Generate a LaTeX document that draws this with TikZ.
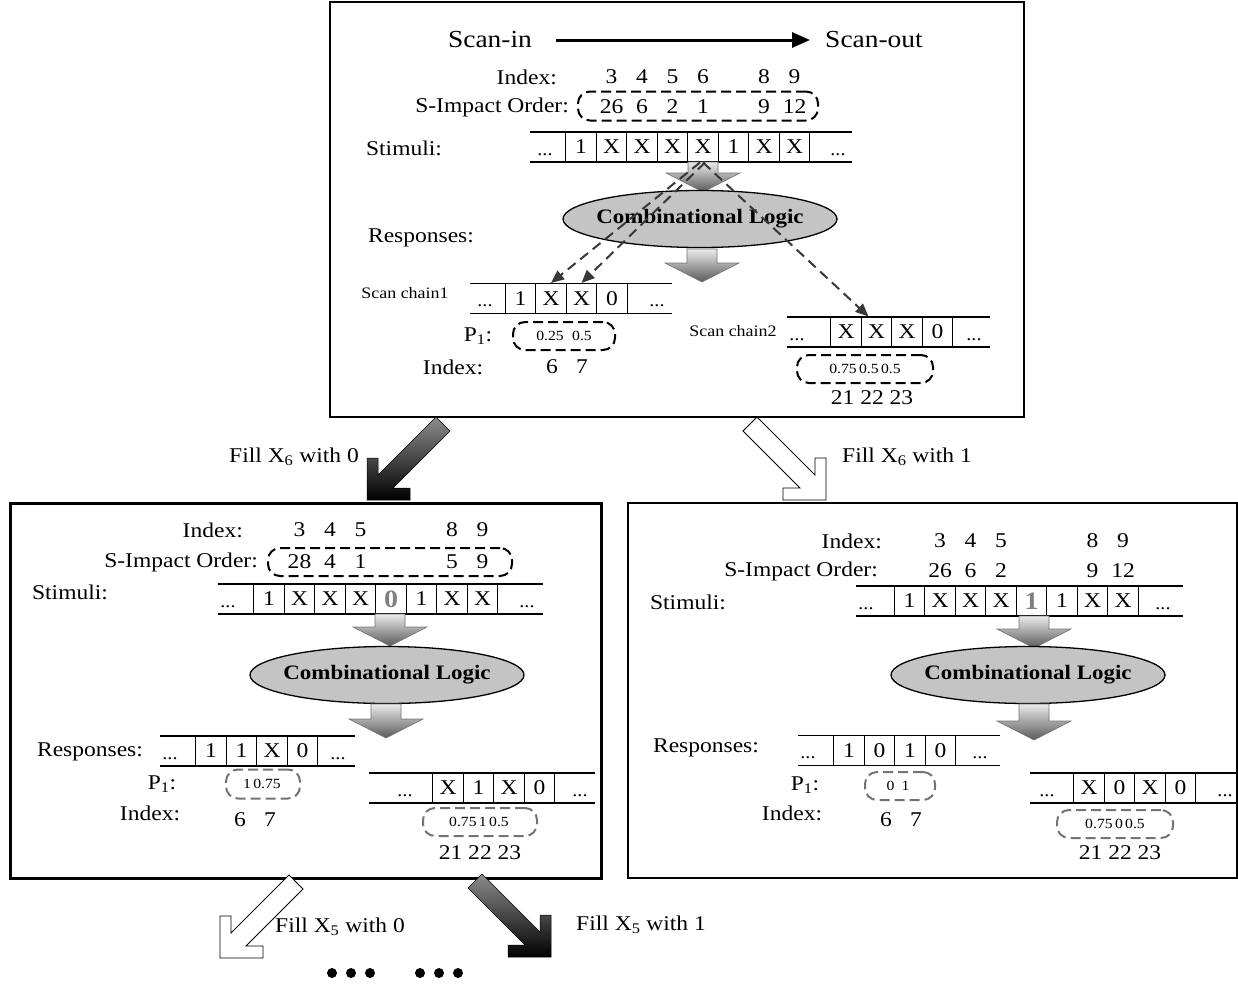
\documentclass[tikz,border=0pt]{standalone}
\usepackage{fontspec}
\setmainfont{Liberation Serif}[FakeStretch=1.12]
\usetikzlibrary{arrows.meta,shapes.geometric,calc}
\newcommand\fsz[1]{\fontsize{#1}{#1}\selectfont}
\newcommand\gbig[1]{{\fsz{25}\bfseries\color{black!50}#1}}
\tikzset{
  lbl/.style={inner sep=0pt, font=\fsz{21}},
  sml/.style={inner sep=0pt, font=\fsz{14}},
  frame/.style={draw, inner sep=0pt},
  cell/.style={draw, line width=1pt, minimum width=30.5pt, minimum height=30pt, inner sep=0pt, font=\fsz{21}},
  rowline/.style={line width=1.3pt},
  rdot/.style={inner sep=0pt, anchor=base, font=\fsz{18}},
  dboxk/.style={draw=black, line width=2pt, dash pattern=on 10pt off 5pt, rounded corners=12pt, inner sep=0pt},
  dboxg/.style={draw=black!55, line width=2pt, dash pattern=on 10pt off 5pt, rounded corners=12pt, inner sep=0pt},
  ell/.style={ellipse, draw, line width=1.3pt, fill=black!23, minimum width=274pt, minimum height=57pt, inner sep=0pt},
  elltext/.style={inner sep=0pt, font=\fsz{20.5}\bfseries},
  barrow/.style={top color=black!8, bottom color=black!65, draw=black!55, line width=0.6pt},
  darrow/.style={draw=black!78, line width=2pt, dash pattern=on 10pt off 6pt, -{Triangle[length=13pt,width=11pt]}},
  dkarrow/.style={top color=black!45, bottom color=black, draw=black, line width=0.5pt},
  wtarrow/.style={fill=white, draw=black, line width=0.8pt},
  bdot/.style={circle, fill=black, inner sep=0pt, minimum size=10pt}
}
% #1 name prefix, #2 first cell centre x, #3 row centre y, #4 left x, #5 right x, #6 values
\newcommand\cellrow[6]{%
  \draw[rowline] (#4,#3-15) -- (#5,#3-15);
  \draw[rowline] (#4,#3+15) -- (#5,#3+15);
  \foreach \v [count=\i] in {#6} \node[cell] (#1\i) at ({#2+(\i-1)*30.5},#3) {\v};
}
% block arrow: centre x, top y, tip y
\newcommand\blockarrow[3]{%
  \path[barrow] (#1-15,#2) -- (#1+15,#2) -- (#1+15,#3-19) -- (#1+37,#3-19) -- (#1,#3) -- (#1-37,#3-19) -- (#1-15,#3-19) -- cycle;
}
% chevron arrow: tip x, tip y, xscale, style
\newcommand\chevron[4]{%
  \path[#4, shift={(#1,#2)}, xscale=#3] (0,0) -- (0,-42) -- (11,-42) -- (11,-25) -- (69,-83) -- (83,-69) -- (26,-12) -- (43,-12) -- (43,0) -- cycle;
}
\begin{document}
\begin{tikzpicture}[x=1pt,y=-1pt]
\useasboundingbox (0,0) rectangle (1238,985);

%================ top box
\node[frame, line width=2pt, minimum width=694pt, minimum height=415pt] (topbox) at (677,209.5) {};
\node[lbl, font=\fsz{24.5}] (scanin) at (490,40) {Scan-in};
\node[lbl, font=\fsz{24.5}] (scanout) at (874,40) {Scan-out};
\draw[line width=3pt, -{Triangle[length=18pt,width=15pt]}, shorten <=24pt, shorten >=15pt] (scanin) -- (scanout);

\node[lbl, anchor=east] (tidx) at (557,77) {Index:};
\foreach \v/\k in {3/2,4/3,5/4,6/5,8/7,9/8} \node[lbl] (ti\k) at ({581+(\k-1)*30.5},77) {\v};
\node[lbl, anchor=east] (tsio) at (569,107) {S-Impact Order:};
\foreach \v/\k in {26/2,6/3,2/4,1/5,9/7,12/8} \node[lbl] (tv\k) at ({581+(\k-1)*30.5},107) {\v};
\node[dboxk, minimum width=240pt, minimum height=29pt] (tdb1) at (698,106) {};
\node[lbl] (tstim) at (404,148) {Stimuli:};
\cellrow{ts}{581}{147}{530}{852}{1,X,X,X,X,1,X,X}
\node[rdot] (tsd1) at (545,155) {...};
\node[rdot] (tsd2) at (838,155) {...};

\blockarrow{703}{162}{192}
\node[ell] (tcl) at (700,219) {};
\node[elltext] (tclt) at (tcl.center) {Combinational Logic};
\node[lbl] (tresp) at (421,238) {Responses:};
\blockarrow{702}{249}{282}

\node[lbl, font=\fsz{16}] (tsc1) at (405,293) {Scan chain1};
\cellrow{tc}{520.5}{298.5}{470}{672}{1,X,X,0}
\node[rdot] (tcd1) at (485,306) {...};
\node[rdot] (tcd2) at (657,306) {...};
\node[lbl] (tp1) at (478,336) {P\textsubscript{1}:};
\node[dboxk, minimum width=102pt, minimum height=28pt] (tdb2) at (564,336) {};
\node[sml] (tpa) at (550,336) {0.25};
\node[sml] (tpb) at (582,336) {0.5};
\node[lbl] (tidx2) at (453,367) {Index:};
\node[lbl] (tia) at (552,367) {6};
\node[lbl] (tib) at (582,367) {7};

\node[lbl, font=\fsz{16}] (tsc2) at (733,331) {Scan chain2};
\cellrow{tw}{846}{332}{787}{990}{X,X,X,0}
\node[rdot] (twd1) at (797,340) {...};
\node[rdot] (twd2) at (974,340) {...};
\node[dboxk, minimum width=136pt, minimum height=28pt] (tdb3) at (865,369) {};
\node[sml] (tpc) at (865,369) {0.75\,0.5\,0.5};
\node[lbl] (tic) at (872,398) {21 22 23};

\draw[darrow] ([xshift=-3pt]ts5.south) -- (tc2.north);
\draw[darrow] ([xshift=2pt]ts5.south) -- (tc3.north);
\draw[darrow] (ts5.south) -- ([xshift=-8pt]tw2.north);

%================ fill X6 arrows
\chevron{367}{500}{1}{dkarrow}
\node[lbl] (f60) at (294,457) {Fill X\textsubscript{6} with 0};
\chevron{826}{500}{-1}{wtarrow}
\node[lbl] (f61) at (907,457) {Fill X\textsubscript{6} with 1};

%================ bottom-left box
\node[frame, line width=3pt, minimum width=591pt, minimum height=375pt] (blbox) at (305.5,690.5) {};
\node[lbl, anchor=east] (bidx) at (243,530) {Index:};
\foreach \v/\k in {3/2,4/3,5/4,8/7,9/8} \node[lbl] (bi\k) at ({269+(\k-1)*30.5},530) {\v};
\node[lbl, anchor=east] (bsio) at (258,562) {S-Impact Order:};
\foreach \v/\k in {28/2,4/3,1/4,5/7,9/8} \node[lbl] (bv\k) at ({269+(\k-1)*30.5},562) {\v};
\node[dboxk, minimum width=244pt, minimum height=28pt] (bdb1) at (390,562) {};
\node[lbl] (bstim) at (70,592) {Stimuli:};
\cellrow{bs}{269}{599}{218}{543}{1,X,X,X,{\gbig{0}},1,X,X}
\node[rdot] (bsd1) at (228,607) {...};
\node[rdot] (bsd2) at (527,607) {...};
\blockarrow{390}{614}{646}
\node[ell] (bcl) at (387,675) {};
\node[elltext] (bclt) at (bcl.center) {Combinational Logic};
\blockarrow{386}{704}{738}
\node[lbl] (bresp) at (90,752) {Responses:};
\cellrow{br}{211}{751}{160}{355}{1,1,X,0}
\node[rdot] (brd1) at (170,759) {...};
\node[rdot] (brd2) at (338,759) {...};
\node[lbl] (bp1) at (162,784) {P\textsubscript{1}:};
\node[dboxg, minimum width=74pt, minimum height=29pt] (bdb2) at (263,784) {};
\node[sml] (bpa) at (262,784) {1\,0.75};
\node[lbl] (bidx2) at (150,813) {Index:};
\node[lbl] (bia) at (240,820) {6};
\node[lbl] (bib) at (270,820) {7};
\cellrow{bw}{448}{788}{369}{595}{X,1,X,0}
\node[rdot] (bwd1) at (405,796) {...};
\node[rdot] (bwd2) at (580,796) {...};
\node[dboxg, minimum width=114pt, minimum height=28pt] (bdb3) at (480,822) {};
\node[sml] (bpc) at (479,822) {0.75\,1\,0.5};
\node[lbl] (bic) at (480,853) {21 22 23};

%================ bottom-right box
\node[frame, line width=1.5pt, minimum width=609pt, minimum height=375pt] (rbox) at (932.5,690.5) {};
\node[lbl, anchor=east] (ridx) at (882,541) {Index:};
\foreach \v/\k in {3/2,4/3,5/4,8/7,9/8} \node[lbl] (ri\k) at ({909.5+(\k-1)*30.5},541) {\v};
\node[lbl, anchor=east] (rsio) at (878,571) {S-Impact Order:};
\foreach \v/\k in {26/2,6/3,2/4,9/7,12/8} \node[lbl] (rv\k) at ({909.5+(\k-1)*30.5},571) {\v};
\node[lbl] (rstim) at (688,602) {Stimuli:};
\cellrow{rs}{909.5}{601}{856}{1183}{1,X,X,X,{\gbig{1}},1,X,X}
\node[rdot] (rsd1) at (866,609) {...};
\node[rdot] (rsd2) at (1163,609) {...};
\blockarrow{1034}{616}{648}
\node[ell] (rcl) at (1028,675) {};
\node[elltext] (rclt) at (rcl.center) {Combinational Logic};
\blockarrow{1034}{704}{740}
\node[lbl] (rresp) at (706,748) {Responses:};
\cellrow{rr}{849}{750.5}{798}{1000}{1,0,1,0}
\node[rdot] (rrd1) at (808,758) {...};
\node[rdot] (rrd2) at (980,758) {...};
\node[lbl] (rp1) at (805,785) {P\textsubscript{1}:};
\node[dboxg, minimum width=70pt, minimum height=28pt] (rdb2) at (900,786) {};
\node[sml] (rpa) at (898,786) {0\hspace{7pt}1};
\node[lbl] (ridx2) at (792,813) {Index:};
\node[lbl] (ria) at (886,820) {6};
\node[lbl] (rib) at (916,820) {7};
\cellrow{rw}{1089}{788}{1030}{1238}{X,0,X,0}
\node[rdot] (rwd1) at (1047,796) {...};
\node[rdot] (rwd2) at (1225,796) {...};
\node[dboxg, minimum width=116pt, minimum height=28pt] (rdb3) at (1115,824) {};
\node[sml] (rpc) at (1115,824) {0.75\,0\,0.5};
\node[lbl] (ric) at (1120,853) {21 22 23};

%================ fill X5 arrows
\chevron{220}{958}{1}{wtarrow}
\node[lbl] (f50) at (340,927) {Fill X\textsubscript{5} with 0};
\chevron{551}{957}{-1}{dkarrow}
\node[lbl] (f51) at (641,925) {Fill X\textsubscript{5} with 1};

\foreach \x [count=\i] in {332,351,370,420,439,458} \node[bdot] (dot\i) at (\x,973) {};
\end{tikzpicture}
\end{document}
